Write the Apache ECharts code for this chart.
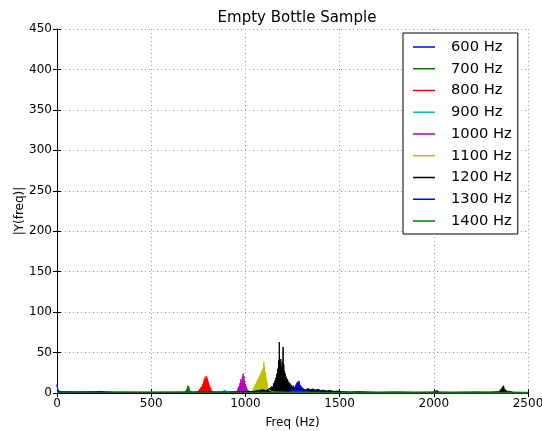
<!DOCTYPE html>
<html>
<head>
<meta charset="utf-8">
<script src="https://cdn.jsdelivr.net/npm/echarts@6/dist/echarts.min.js"></script>
<style>html,body{margin:0;padding:0;background:#fff}#c{width:542px;height:431px}</style>
</head>
<body>
<div id="c"></div>
<script>
var titleText = 'Empty Bottle Sample';
var xLabel = 'Freq (Hz)';
var yLabel = '|Y(freq)|';
var seriesNames = ['600 Hz','700 Hz','800 Hz','900 Hz','1000 Hz','1100 Hz','1200 Hz','1300 Hz','1400 Hz'];
var seriesColors = ['#0000ff','#008000','#ff0000','#00bfbf','#bf00bf','#bfbf00','#000000','#0000ff','#008000'];

var s600 = [[0,11],[3,6],[6,3],[10,2],[20,1.5],[40,1],[100,0.8],[300,0.6],[600,0.6],[1000,0.5],[1500,0.4],[2000,0.4],[2500,0.3]];
var s700 = [[0,2],[10,1],[200,0.8],[400,0.6],[600,0.8],[680,1],[686,2],[690,5],[693,3],[695,9],[697,4],[700,8],[703,3],[706,2],[710,1],[720,0.7],[1000,0.5],[1500,0.4],[2500,0.3]];
var s800 = [[0,1],[300,0.5],[700,0.8],[745,1.5],[752,2.5],[756,4],[759,2],[762,6],[765,3],[768,8],[770,5],[773,11],[775,6],[778,14],[780,8],[782,17],[784,10],[786,20],[788,12],[790,16],[792,9],[794,21],[796,13],[798,18],[800,10],[802,15],[804,7],[806,12],[808,6],[810,9],[812,4],[815,7],[818,3],[821,5],[825,2],[830,1.5],[850,1],[1000,0.5],[2500,0.3]];
var s900 = [[0,1],[800,0.6],[876,1.5],[882,3],[886,2],[890,3.5],[894,2],[898,3],[904,1.5],[912,1],[1000,0.5],[2500,0.3]];
var s1000 = [[0,1],[900,0.6],[945,1.5],[952,3],[956,2],[960,5],[963,3],[966,8],[968,5],[971,12],[973,7],[976,17],[978,10],[980,14],[982,9],[984,20],[986,12],[988,24],[990,13],[992,21],[994,10],[996,15],[998,7],[1000,11],[1003,5],[1006,8],[1009,4],[1012,5],[1016,2.5],[1022,2],[1035,1.2],[1100,0.8],[1500,0.5],[1990,0.6],[2003,1.5],[2008,3],[2012,2],[2016,3.5],[2020,1.5],[2030,0.7],[2500,0.4]];
var s1100 = [[0,1],[1000,0.8],[1025,1.5],[1034,3],[1038,2],[1042,5],[1045,3],[1048,8],[1050,5],[1053,11],[1055,7],[1058,13],[1060,9],[1063,16],[1065,10],[1068,18],[1070,12],[1073,20],[1075,14],[1078,22],[1080,15],[1083,25],[1085,17],[1088,28],[1090,19],[1093,30],[1095,21],[1098,38],[1100,24],[1102,32],[1104,19],[1106,26],[1108,14],[1110,20],[1112,10],[1115,14],[1118,7],[1121,9],[1124,4],[1128,5],[1133,2.5],[1140,2],[1160,1.5],[1200,1],[1500,0.5],[2500,0.3]];
var s1200 = [[0,1.5],[50,1.2],[100,1],[200,1.5],[230,2],[260,1.2],[300,1],[500,0.9],[700,1],[900,1.2],[1000,1.5],[1040,2],[1070,3],[1090,4],[1110,3],[1125,5],[1135,4],[1142,8],[1146,5],[1150,12],[1153,7],[1156,15],[1159,9],[1162,19],[1164,11],[1167,24],[1169,14],[1172,30],[1174,18],[1176,40],[1178,22],[1180,63],[1182,28],[1184,36],[1186,20],[1188,42],[1190,24],[1192,33],[1194,20],[1196,38],[1198,26],[1200,57],[1202,23],[1204,35],[1206,17],[1208,27],[1210,14],[1212,24],[1215,12],[1218,20],[1221,11],[1224,17],[1227,9],[1230,14],[1233,8],[1237,12],[1241,7],[1245,10],[1249,6],[1254,9],[1259,5],[1265,8],[1271,5],[1278,7],[1285,5],[1293,7],[1300,5],[1310,6],[1320,4],[1332,5.5],[1345,4],[1358,5],[1370,3.5],[1385,4.5],[1400,3],[1415,3.5],[1430,2.5],[1450,3],[1470,2],[1490,2.5],[1510,1.5],[1560,1.2],[1600,1.5],[1700,1],[1800,1.3],[1900,1],[2000,1.2],[2100,1],[2200,1.3],[2300,1.2],[2345,1.5],[2355,3],[2362,6],[2366,4],[2370,9],[2374,5],[2378,7],[2384,3],[2392,1.5],[2420,1],[2500,0.8]];
var s1300 = [[0,10],[3,5],[8,2],[20,1],[100,0.8],[500,0.6],[1000,0.8],[1200,1.2],[1238,2],[1246,3],[1252,5],[1256,4],[1260,7],[1263,5],[1266,9],[1269,7],[1272,11],[1275,9],[1278,14],[1281,10],[1284,15],[1287,11],[1290,13],[1293,9],[1296,12],[1299,7],[1302,9],[1305,6],[1309,7],[1313,4],[1318,5],[1325,3],[1335,3.5],[1345,2],[1380,1.5],[1450,1],[1600,0.8],[2000,0.6],[2380,0.6],[2392,2],[2398,3],[2403,2],[2408,2.5],[2415,1],[2430,0.5],[2500,0.4]];
var s1400 = [[0,1],[500,0.8],[1000,0.8],[1500,0.7],[2000,0.7],[2500,0.6]];
var seriesData = [s600,s700,s800,s900,s1000,s1100,s1200,s1300,s1400];

var xMin = 0, xMax = 2500, xStep = 500;
var yMin = 0, yMax = 450, yStep = 50;

var font = 'DejaVu Sans';
var chart = echarts.init(document.getElementById('c'), null, {renderer:'canvas'});

var series = seriesNames.map(function(n, i){
  return {
    name: n, type: 'line', data: seriesData[i],
    showSymbol: false, symbol: 'none', animation: false,
    color: seriesColors[i],
    lineStyle: {width: 1, color: seriesColors[i]},
    areaStyle: {color: seriesColors[i], opacity: 1},
    emphasis: {disabled: true},
    xAxisIndex: 0, yAxisIndex: 0, z: 2
  };
});

var gridLine = {show: true, lineStyle: {color: '#999', width: 1, type: [1,3]}};
var plain = function(v){ return String(v); };
chart.setOption({
  animation: false,
  backgroundColor: '#fff',
  title: {text: titleText, left: 292, textAlign: 'center', top: 6,
    textStyle: {fontFamily: font, fontSize: 15, fontWeight: 'normal', color: '#000'}},
  grid: {left: 57, right: 14, top: 29, bottom: 38, containLabel: false, outerBoundsMode: 'none'},
  legend: {
    orient: 'vertical', left: 403, top: 33, width: 115,
    padding: [6, 6, 5, 10],
    backgroundColor: '#fff', borderColor: '#000', borderWidth: 1,
    icon: 'rect', itemWidth: 22, itemHeight: 1.5, itemGap: 5.75,
    textStyle: {fontFamily: font, fontSize: 14.7, color: '#000', lineHeight: 16, padding: [0,0,0,11]},
    data: seriesNames, z: 10
  },
  xAxis: [{
    type: 'value', min: xMin, max: xMax, interval: xStep,
    name: xLabel, nameLocation: 'middle', nameGap: 24, nameMoveOverlap: false,
    nameTextStyle: {fontFamily: font, fontSize: 12, color: '#000'},
    axisLine: {show: true, onZero: false, lineStyle: {color: '#000', width: 1}},
    axisTick: {show: true, inside: true, length: 4, lineStyle: {color: '#000'}},
    axisLabel: {fontFamily: font, fontSize: 12, color: '#000', margin: 5, formatter: plain},
    splitLine: gridLine
  },{
    type: 'value', position: 'top', min: xMin, max: xMax, interval: xStep,
    axisLine: {show: true, lineStyle: {color: '#000', width: 1}},
    axisTick: {show: true, inside: true, length: 4, lineStyle: {color: '#000'}},
    axisLabel: {show: false}, splitLine: {show: false}
  }],
  yAxis: [{
    type: 'value', min: yMin, max: yMax, interval: yStep,
    name: yLabel, nameLocation: 'middle', nameGap: 31, nameRotate: 90, nameMoveOverlap: false,
    nameTextStyle: {fontFamily: font, fontSize: 12, color: '#000'},
    axisLine: {show: true, onZero: false, lineStyle: {color: '#000', width: 1}},
    axisTick: {show: true, inside: true, length: 4, lineStyle: {color: '#000'}},
    axisLabel: {fontFamily: font, fontSize: 12, color: '#000', margin: 5, formatter: plain},
    splitLine: gridLine
  },{
    type: 'value', position: 'right', min: yMin, max: yMax, interval: yStep,
    axisLine: {show: true, lineStyle: {color: '#000', width: 1}},
    axisTick: {show: true, inside: true, length: 4, lineStyle: {color: '#000'}},
    axisLabel: {show: false}, splitLine: {show: false}
  }],
  series: series
});
</script>
</body>
</html>
